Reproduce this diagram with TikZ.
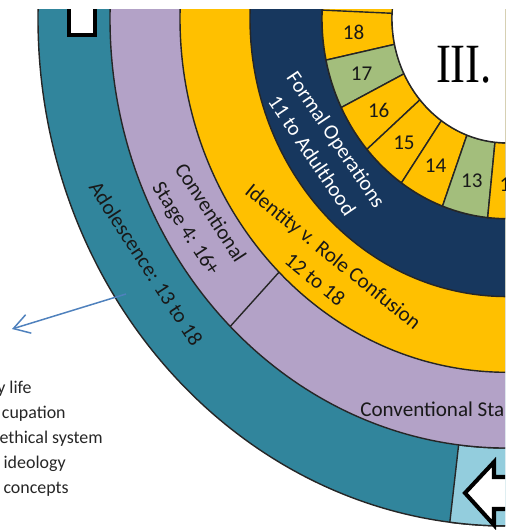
\documentclass[tikz,border=0pt]{standalone}
\usepackage{fontspec}
\setmainfont{Carlito}
\newfontfamily\numeralfont{Liberation Serif}
\usepackage{graphicx}
\usetikzlibrary{arrows.meta}

\definecolor{tealring}{HTML}{31859C}
\definecolor{lavender}{HTML}{B3A2C7}
\definecolor{gold}{HTML}{FFC000}
\definecolor{navy}{HTML}{17375E}
\definecolor{sage}{HTML}{A3BE7C}
\definecolor{skyblue}{HTML}{93CDDD}
\definecolor{linkblue}{HTML}{4F81BD}

% annular sector: colour, inner radius, outer radius, start angle, end angle
\newcommand{\ringsector}[5]{%
  \filldraw[ring, fill=#1] (#4:#2) arc[start angle=#4, end angle=#5, radius=#2]
    -- (#5:#3) arc[start angle=#5, end angle=#4, radius=#3] -- cycle;}

\begin{document}
\begin{tikzpicture}[x=0.02cm, y=0.02cm,
    >={Straight Barb[length=9pt, width=11pt]},
    ring/.style={draw=black!85, line width=0.8pt},
    agenum/.style={font=\fontsize{12}{12}\selectfont, text=black!90},
    ringtext/.style={font=\fontsize{12}{16.5}\selectfont, align=center, text=black!90},
    listtext/.style={font=\fontsize{10.2}{12}\selectfont, text=black!85, inner sep=0pt},
    blockarrow/.style={draw=black, fill=white, line width=2.3pt, miter limit=4}]
    \useasboundingbox (0,0) rectangle (505,530);

    \begin{scope}
        \clip (0,0) rectangle (505,520);

        % the wheel, centred off to the upper right
        \begin{scope}[shift={(507,511.5)}, yscale=1.082]
            \filldraw[ring, fill=tealring] (0,0) circle[radius=469];
            \ringsector{skyblue}{397}{469}{263}{300}
            \filldraw[ring, fill=lavender] (0,0) circle[radius=397];
            \draw[ring] (225.8:327) -- (225.8:397);
            \filldraw[ring, fill=gold] (0,0) circle[radius=327];
            \filldraw[ring, fill=navy] (0,0) circle[radius=257];
            \filldraw[ring, fill=gold] (0,0) circle[radius=185];

            % ages
            \foreach \age/\col [count=\k from 0] in {18/gold, 17/sage, 16/gold, 15/gold, 14/gold, 13/sage, 12/gold} {
                \pgfmathsetmacro{\a}{177.6+14.4*\k}
                \pgfmathsetmacro{\b}{\a+14.4}
                \ringsector{\col}{115}{185}{\a}{\b}
                \node[agenum] (age\age) at ({\a+7.2}:154) {\age};
            }
            \filldraw[ring, fill=white] (0,0) circle[radius=115];

            \node[ringtext, text=white, rotate=-56] (formal) at (213.1:218) {Formal Operations\\11 to Adulthood};
            \node[ringtext, rotate=-39] (identity) at (231.6:294) {Identity v. Role Confusion\\12 to 18};
            \node[ringtext, rotate=-57] (stagefour) at (211.2:362) {Conventional\\Stage 4: 16+};
            \node[ringtext, rotate=-57] (adolescence) at (212.1:426) {Adolescence: 13 to 18};
        \end{scope}

        \node[ringtext, anchor=base west, inner sep=0pt] (stagethree) at (360,113) {Conventional Sta};
        \node[font=\numeralfont\fontsize{30}{30}\selectfont] (numeral) at (464,465) {\scalebox{0.85}[1.05]{III.}};

        % block arrows
        \draw[blockarrow] (69,495) -- (95,495) -- (95,560) -- (69,560) -- cycle;
        \draw[blockarrow] (465,37) -- (494,68) -- (494,53) -- (530,53) -- (530,21) -- (494,21) -- (494,5) -- cycle;

        % pointer out of the ring
        \coordinate (arrowstart) at (126,236);
        \coordinate (arrowtip) at (12,201);
        \draw[->, linkblue, line width=0.85pt] (arrowstart) -- (arrowtip);

        \foreach \txt/\xe/\yb [count=\i] in {y life/32/394, cupation/66/419, ethical system/103/444, ideology/66/469, concepts/69/494}
            \node[listtext, anchor=base east] (item\i) at (\xe,{530-\yb}) {\txt};
    \end{scope}
\end{tikzpicture}
\end{document}
